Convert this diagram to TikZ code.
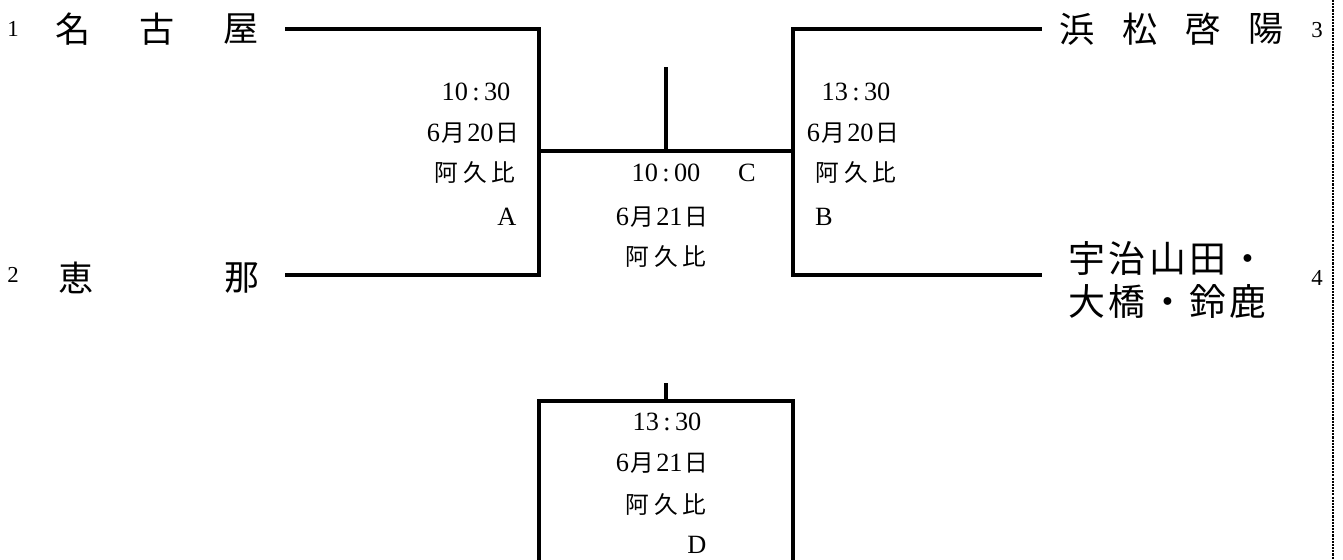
\documentclass[tikz,border=0pt]{standalone}
\usepackage{fontspec}
\setmainfont{Liberation Serif}
\newfontfamily\jp{Noto Sans CJK JP}
\newcommand\jpk[1]{{\jp\fontsize{13.5}{16}\selectfont #1}}
\newcommand\kk{\kern2pt}
\newcommand\tm[2]{#1\kern2.5pt:\kern2.5pt#2}
\newcommand\dt[2]{#1\kern1pt\jpk{月}\kern1pt#2\kern1pt\jpk{日}}
\newcommand\ak{\jpk{阿\kern2.8pt久\kern2.8pt比}}
\begin{document}
\begin{tikzpicture}[x=0.02cm,y=-0.02cm,
  br/.style={line width=2pt, line join=miter, line cap=rect},
  big/.style={font=\jp\fontsize{20}{24}\selectfont, inner sep=0pt},
  seed/.style={font=\fontsize{13}{15}\selectfont, inner sep=0pt},
  sm/.style={font=\fontsize{15}{18}\selectfont, inner sep=0pt}]
\useasboundingbox (0,0) rectangle (1343,560);

% seeds
\node[seed] (s1) at (13,29) {1};
\node[seed] (s2) at (13,275) {2};
\node[seed] (s3) at (1317,30) {3};
\node[seed] (s4) at (1317,278) {4};

% team names
\node[big] (t1a) at (73,29) {名};
\node[big] (t1b) at (157,29) {古};
\node[big] (t1c) at (241,29) {屋};
\node[big] (t2a) at (76,278) {恵};
\node[big] (t2b) at (242,278) {那};
\node[big] (t3a) at (1077,29) {浜};
\node[big] (t3b) at (1140,29) {松};
\node[big] (t3c) at (1203,29) {啓};
\node[big] (t3d) at (1266,29) {陽};
\node[big, anchor=west, align=left, font=\jp\fontsize{21}{25}\selectfont] (t4) at (1068,280)
  {宇\kk 治\kk 山\kk 田\kk ・\\大\kk 橋\kk ・\kk 鈴\kk 鹿};

% bracket coordinates
\coordinate (l1) at (287,29);
\coordinate (a1) at (539,29);
\coordinate (l2) at (287,275);
\coordinate (a2) at (539,275);
\coordinate (am) at (539,151);
\coordinate (r1) at (1040,29);
\coordinate (b1) at (793,29);
\coordinate (r2) at (1040,275);
\coordinate (b2) at (793,275);
\coordinate (bm) at (793,151);
\coordinate (cm) at (666,151);
\coordinate (ct) at (666,69);
\coordinate (dt) at (666,385);
\coordinate (dm) at (666,401);
\coordinate (dl) at (539,401);
\coordinate (dr) at (793,401);
\coordinate (dlb) at (539,562);
\coordinate (drb) at (793,562);

\draw[br] (l1) -- (a1) -- (a2) -- (l2);
\draw[br] (r1) -- (b1) -- (b2) -- (r2);
\draw[br] (am) -- (bm);
\draw[br] (ct) -- (cm);
\draw[br] (dt) -- (dm);
\draw[br] (dlb) -- (dl) -- (dr) -- (drb);

% match A
\node[sm] (a-t) at (476,92) {\tm{10}{30}};
\node[sm] (a-d) at (473,133) {\dt{6}{20}};
\node[sm] (a-p) at (475,173) {\ak};
\node[sm] (a-l) at (507,217) {A};

% match B
\node[sm] (b-t) at (856,92) {\tm{13}{30}};
\node[sm] (b-d) at (853,133) {\dt{6}{20}};
\node[sm] (b-p) at (856,173) {\ak};
\node[sm] (b-l) at (824,217) {B};

% match C
\node[sm] (c-t) at (666,173) {\tm{10}{00}};
\node[sm] (c-l) at (747,173) {C};
\node[sm] (c-d) at (662,217) {\dt{6}{21}};
\node[sm] (c-p) at (666,257) {\ak};

% match D
\node[sm] (d-t) at (667,422) {\tm{13}{30}};
\node[sm] (d-d) at (662,463) {\dt{6}{21}};
\node[sm] (d-p) at (666,505) {\ak};
\node[sm] (d-l) at (697,545) {D};

% right dashed edge
\coordinate (eT) at (1333,0);
\coordinate (eB) at (1333,560);
\draw[line width=0.8pt, dash pattern=on 1.2pt off 0.6pt] (eT) -- (eB);
\end{tikzpicture}
\end{document}
